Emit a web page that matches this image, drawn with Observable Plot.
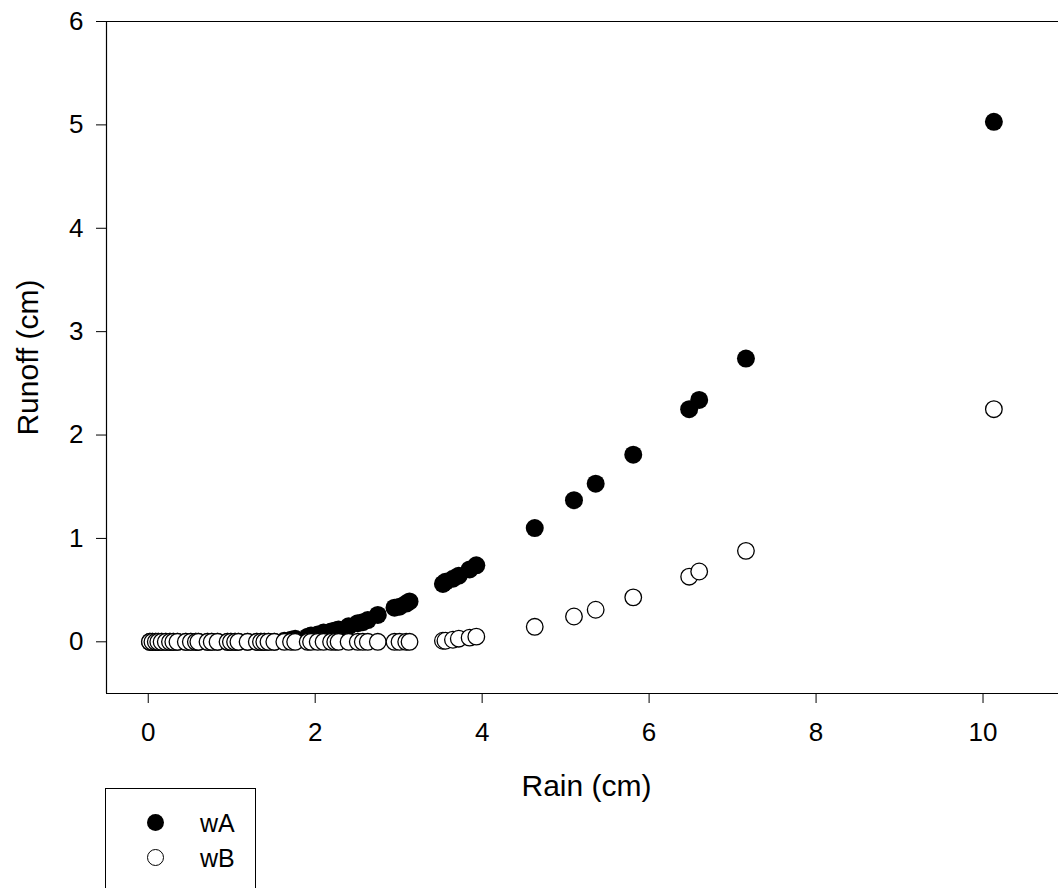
<!DOCTYPE html>
<html>
<head>
<meta charset="utf-8">
<script src="https://cdn.jsdelivr.net/npm/d3@7"></script>
<script src="https://cdn.jsdelivr.net/npm/@observablehq/plot@0.6"></script>
<style>
  html, body { margin: 0; padding: 0; background: white; overflow: hidden; }
  #wrap { position: relative; width: 1058px; height: 888px; overflow: hidden; }
  #chart svg { max-width: none !important; display: block; }
  #legend { position: absolute; left: 105px; top: 788px; width: 149px; height: 120px;
            border: 1px solid black; background: white;
            font-family: 'Liberation Sans', Arial, sans-serif; font-size: 25px; color: black; }
  .item { position: absolute; left: 0; height: 30px; }
  .sym { position: absolute; box-sizing: border-box; border-radius: 50%; }
  .lab { position: absolute; left: 94px; line-height: 30px; }
</style>
</head>
<body>
<div id="wrap">
  <div id="chart"></div>
  <div id="legend"></div>
</div>
<script>
// Rain events (cm) and runoff (cm) for each watershed
const rain = [0.02, 0.05, 0.09, 0.12, 0.16, 0.21, 0.26, 0.30, 0.35, 0.45,
              0.51, 0.57, 0.60, 0.71, 0.76, 0.83, 0.95, 0.99, 1.04, 1.08,
              1.19, 1.30, 1.35, 1.39, 1.44, 1.51, 1.63, 1.71, 1.76, 1.91,
              1.95, 2.03, 2.10, 2.19, 2.24, 2.28, 2.40, 2.51, 2.57, 2.63,
              2.75, 2.95, 3.01, 3.09, 3.13, 3.53, 3.56, 3.65, 3.72, 3.85,
              3.93, 4.63, 5.10, 5.36, 5.81, 6.48, 6.60, 7.16, 10.13];
const wA   = [0, 0, 0, 0, 0, 0, 0, 0, 0, 0,
              0, 0, 0, 0, 0, 0, 0, 0, 0, 0,
              0, 0, 0, 0, 0, 0, 0.01, 0.02, 0.03, 0.05,
              0.06, 0.07, 0.09, 0.10, 0.11, 0.12, 0.15, 0.18, 0.19, 0.21,
              0.26, 0.33, 0.34, 0.37, 0.39, 0.56, 0.58, 0.61, 0.64, 0.70,
              0.74, 1.10, 1.37, 1.53, 1.81, 2.25, 2.34, 2.74, 5.03];
const wB   = [0, 0, 0, 0, 0, 0, 0, 0, 0, 0,
              0, 0, 0, 0, 0, 0, 0, 0, 0, 0,
              0, 0, 0, 0, 0, 0, 0, 0, 0, 0,
              0, 0, 0, 0, 0, 0, 0, 0, 0, 0,
              0, 0, 0, 0, 0, 0.01, 0.01, 0.02, 0.03, 0.04,
              0.05, 0.145, 0.245, 0.31, 0.43, 0.63, 0.68, 0.88, 2.25];
const seriesNames = ["wA", "wB"];
const xTicks = [0, 2, 4, 6, 8, 10];
const yTicks = [0, 1, 2, 3, 4, 5, 6];
const xDomain = [-0.5, 11];
const yDomain = [-0.5, 6];

const rows = rain.map((r, i) => ({rain: r, wA: wA[i], wB: wB[i]}));

const chart = Plot.plot({
  width: 1066,
  height: 888,
  marginLeft: 106,
  marginRight: 0,
  marginTop: 21,
  marginBottom: 195,
  style: {fontFamily: "'Liberation Sans', Arial, sans-serif", fontSize: "26px", color: "black", background: "white", overflow: "hidden", maxWidth: "none"},
  x: {domain: xDomain, ticks: xTicks, tickFormat: d => String(d), tickSize: 10, tickPadding: 19, label: "Rain (cm)",
      labelAnchor: "center", labelArrow: "none", labelOffset: 102},
  y: {domain: yDomain, ticks: yTicks, tickFormat: d => String(d), tickSize: 10, tickPadding: 13, label: "Runoff (cm)",
      labelAnchor: "center", labelArrow: "none", labelOffset: 90},
  marks: [
    Plot.ruleY(yDomain, {stroke: "black", strokeWidth: 1.2}),
    Plot.ruleX([xDomain[0]], {stroke: "black", strokeWidth: 1.2}),
    Plot.dot(rows, {x: "rain", y: "wA", r: 9, fill: "black", stroke: "none"}),
    Plot.dot(rows, {x: "rain", y: "wB", r: 8.3, fill: "white", stroke: "black", strokeWidth: 1.3})
  ]
});
chart.querySelectorAll('g[aria-label="x-axis label"], g[aria-label="y-axis label"]').forEach(g => {
  g.setAttribute("font-size", 30);
  g.querySelectorAll("text").forEach(t => t.setAttribute("font-size", 30));
});
chart.querySelectorAll('g[aria-label="x-axis tick"], g[aria-label="y-axis tick"]').forEach(g => {
  g.setAttribute("stroke", "black");
});
document.getElementById("chart").appendChild(chart);

// Legend
const legend = document.getElementById("legend");
seriesNames.forEach((name, i) => {
  const item = document.createElement("div");
  item.className = "item";
  item.style.top = (19 + i * 35) + "px";
  item.style.width = "149px";
  const sym = document.createElement("div");
  sym.className = "sym";
  sym.style.width = "17px"; sym.style.height = "17px";
  sym.style.left = "41px"; sym.style.top = "6px";
  if (i === 0) { sym.style.background = "black"; }
  else { sym.style.background = "white"; sym.style.border = "1.2px solid black"; }
  const lab = document.createElement("div");
  lab.className = "lab";
  lab.textContent = name;
  item.appendChild(sym);
  item.appendChild(lab);
  legend.appendChild(item);
});
</script>
</body>
</html>
